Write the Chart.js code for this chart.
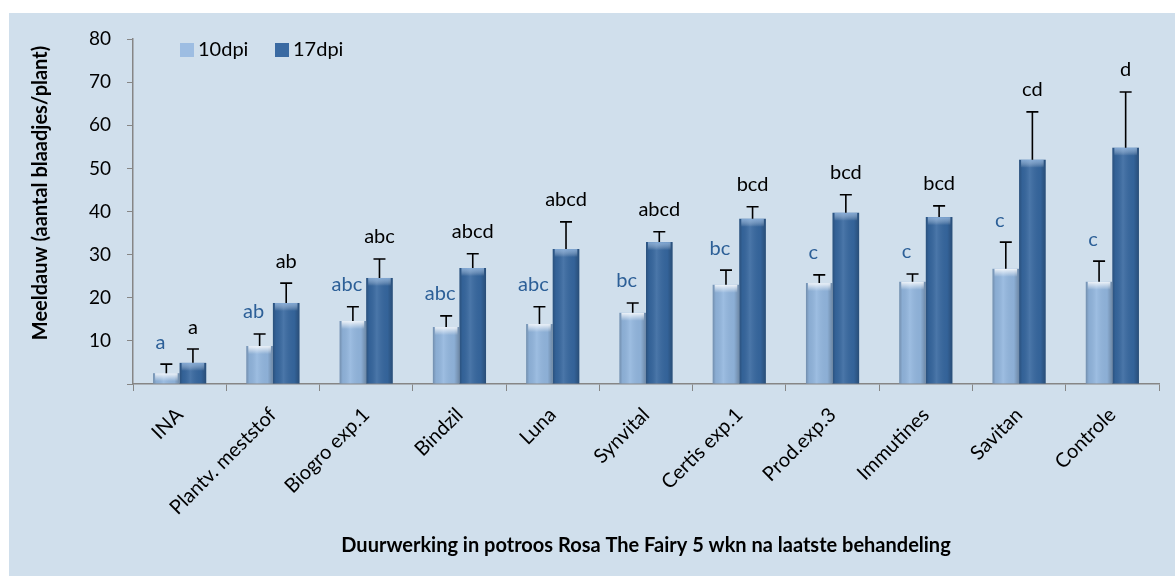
<!DOCTYPE html>
<html>
<head>
<meta charset="utf-8">
<script src="https://cdn.jsdelivr.net/npm/chart.js@4"></script>
<style>
  html, body { margin: 0; padding: 0; background: #fff; }
  canvas { display: block; }
</style>
</head>
<body>
<canvas id="meeldauw" width="1175" height="576"></canvas>
<script>
// data uit de grafiek
const behandelingen = ['INA', 'Plantv. meststof', 'Biogro exp.1', 'Bindzil', 'Luna', 'Synvital',
    'Certis exp.1', 'Prod.exp.3', 'Immutines', 'Savitan', 'Controle'];
const dpi10 = [2.5, 8.8, 14.6, 13.2, 13.9, 16.5, 23.0, 23.4, 23.7, 26.7, 23.7];
const dpi17 = [4.9, 18.8, 24.6, 26.9, 31.3, 32.9, 38.3, 39.7, 38.7, 52.0, 54.8];
const fout10 = [2.1, 2.8, 3.3, 2.6, 4.0, 2.3, 3.4, 1.9, 1.8, 6.2, 4.8];
const fout17 = [3.2, 4.6, 4.4, 3.3, 6.3, 2.4, 2.8, 4.2, 2.6, 11.1, 12.9];
const letters10 = ['a', 'ab', 'abc', 'abc', 'abc', 'bc', 'bc', 'c', 'c', 'c', 'c'];
const letters17 = ['a', 'ab', 'abc', 'abcd', 'abcd', 'abcd', 'bcd', 'bcd', 'bcd', 'cd', 'd'];
const yTicks = [0, 10, 20, 30, 40, 50, 60, 70, 80];
const yTitel = 'Meeldauw (aantal blaadjes/plant)';
const xTitel = 'Duurwerking in potroos Rosa The Fairy 5 wkn na laatste behandeling';

const fontFam = "Lato, 'Open Sans', sans-serif";
const fouten = [fout10, fout17];
const letters = [letters10, letters17];

// achtergrond
const achtergrond = {
    id: 'achtergrond',
    beforeDraw(chart) {
        const ctx = chart.ctx;
        ctx.save();
        ctx.fillStyle = '#ffffff';
        ctx.fillRect(0, 0, chart.width, chart.height);
        ctx.fillStyle = '#d0dfec';
        ctx.fillRect(9, 13, chart.width - 9, chart.height - 13);
        ctx.restore();
    }
};

// glans op de balken, foutbalken en letters
const extras = {
    id: 'extras',
    afterDatasetsDraw(chart) {
        const ctx = chart.ctx;
        const yScale = chart.scales.y;
        ctx.save();
        chart.data.datasets.forEach((ds, di) => {
            const meta = chart.getDatasetMeta(di);
            meta.data.forEach((bar, i) => {
                const l = bar.x - bar.width / 2, r = bar.x + bar.width / 2;
                const t = bar.y, b = bar.base;
                let g = ctx.createLinearGradient(l, 0, r, 0);
                g.addColorStop(0, 'rgba(0,0,0,0.22)');
                g.addColorStop(0.12, 'rgba(0,0,0,0.05)');
                g.addColorStop(0.4, 'rgba(255,255,255,0.10)');
                g.addColorStop(0.8, 'rgba(0,0,0,0.04)');
                g.addColorStop(1, 'rgba(0,0,0,0.25)');
                ctx.fillStyle = g;
                ctx.fillRect(l, t, r - l, b - t);
                const h = Math.min(8, b - t);
                g = ctx.createLinearGradient(0, t, 0, t + h);
                g.addColorStop(0, di === 0 ? 'rgba(255,255,255,0.85)' : 'rgba(160,195,235,0.7)');
                g.addColorStop(1, 'rgba(255,255,255,0)');
                ctx.fillStyle = g;
                ctx.fillRect(l + 2, t, r - l - 4, h);
            });
        });
        chart.data.datasets.forEach((ds, di) => {
            const meta = chart.getDatasetMeta(di);
            meta.data.forEach((bar, i) => {
                const topY = yScale.getPixelForValue(ds.data[i] + fouten[di][i]);
                ctx.strokeStyle = '#000';
                ctx.lineWidth = 1.6;
                ctx.beginPath();
                ctx.moveTo(bar.x, bar.y);
                ctx.lineTo(bar.x, topY);
                ctx.moveTo(bar.x - 6, topY);
                ctx.lineTo(bar.x + 6, topY);
                ctx.stroke();
                ctx.font = '20px ' + fontFam;
                ctx.textAlign = 'center';
                ctx.textBaseline = 'middle';
                ctx.fillStyle = di === 0 ? '#2c5f97' : '#000';
                const lx = di === 0 ? bar.x - 6 : bar.x;
                ctx.fillText(letters[di][i], lx, topY - 22);
            });
        });
        ctx.restore();
    }
};

// legenda en y-titel
const legenda = {
    id: 'legenda',
    afterDraw(chart) {
        const ctx = chart.ctx;
        const kleuren = ['#9dbde2', '#3a6aa2'];
        const posX = [180, 275];
        ctx.save();
        chart.data.datasets.forEach((ds, di) => {
            ctx.fillStyle = kleuren[di];
            ctx.fillRect(posX[di], 43, 14, 14);
            ctx.fillStyle = '#000';
            ctx.font = '20px ' + fontFam;
            ctx.textAlign = 'left';
            ctx.textBaseline = 'middle';
            ctx.fillText(ds.label, posX[di] + 18, 50);
        });
        ctx.translate(41, 193);
        ctx.rotate(-Math.PI / 2);
        ctx.font = 'bold 20px ' + fontFam;
        ctx.textAlign = 'center';
        ctx.fillText(yTitel, 0, 0);
        ctx.restore();
    }
};

const config = {
    type: 'bar',
    data: {
        labels: behandelingen,
        datasets: [{
            label: '10dpi',
            data: dpi10,
            backgroundColor: '#92b6de',
            categoryPercentage: 0.57,
            barPercentage: 1
        }, {
            label: '17dpi',
            data: dpi17,
            backgroundColor: '#36679f',
            categoryPercentage: 0.57,
            barPercentage: 1
        }]
    },
    options: {
        responsive: false,
        animation: false,
        devicePixelRatio: 1,
        layout: { padding: { top: 39, right: 16, left: 0, bottom: 0 } },
        plugins: {
            legend: { display: false },
            tooltip: { enabled: false }
        },
        scales: {
            x: {
                afterFit: s => { s.height = 576 - 384; },
                grid: { offset: true, drawOnChartArea: false, color: '#868686', tickLength: 7 },
                border: { color: '#868686', width: 1.5 },
                ticks: {
                    minRotation: 45, maxRotation: 45, padding: 12,
                    color: '#000', font: { family: fontFam, size: 20 }
                },
                title: {
                    display: true,
                    text: xTitel,
                    color: '#000',
                    font: { family: fontFam, size: 20, weight: 'bold' },
                    padding: { top: 0, bottom: 18 }
                }
            },
            y: {
                min: 0,
                max: 80,
                afterFit: s => { s.width = 133; },
                afterBuildTicks: s => { s.ticks = yTicks.map(v => ({ value: v })); },
                grid: { drawOnChartArea: false, color: '#868686', tickLength: 6 },
                border: { color: '#868686', width: 1.5 },
                ticks: {
                    padding: 16,
                    color: '#000',
                    font: { family: fontFam, size: 19 },
                    callback: v => v === 0 ? '' : v
                }
            }
        }
    },
    plugins: [achtergrond, extras, legenda]
};

new Chart(document.getElementById('meeldauw').getContext('2d'), config);
</script>
</body>
</html>
